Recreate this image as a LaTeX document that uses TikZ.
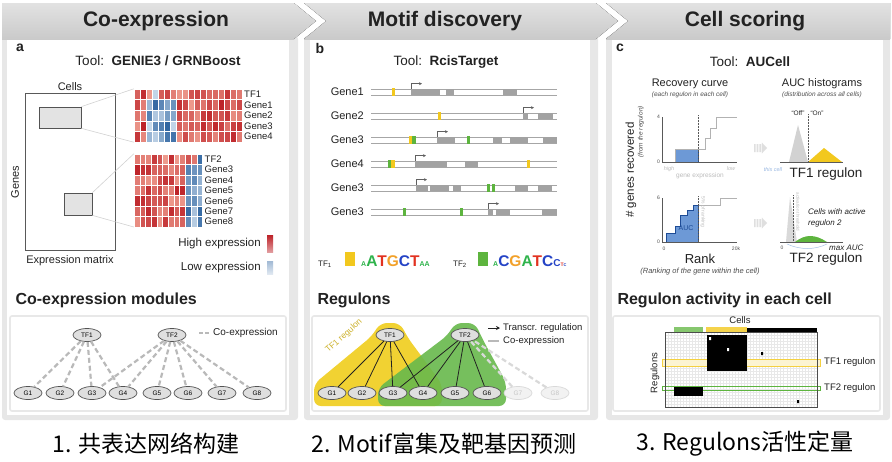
\documentclass[tikz,border=0pt]{standalone}
\usepackage{fontspec}
\setmainfont{Liberation Sans}
\newfontfamily\cjk{Noto Sans CJK SC}
\usetikzlibrary{arrows.meta,positioning,calc,shapes.geometric}
\definecolor{HeadTop}{HTML}{E2E2E2}
\definecolor{HeadBot}{HTML}{CACACA}
\definecolor{Frame}{HTML}{E7E7E7}
\definecolor{Ink}{HTML}{222222}
\definecolor{HeatRed}{HTML}{BD2228}
\definecolor{HeatLow}{HTML}{EE9C8E}
\definecolor{HeatBlue}{HTML}{2E64A0}
\definecolor{BlueLow}{HTML}{C9DAEB}
\definecolor{Exon}{HTML}{A2A2A2}
\definecolor{Yel}{HTML}{F2C81E}
\definecolor{Grn}{HTML}{5DB43E}
\definecolor{RegYel}{HTML}{F1D232}
\definecolor{RegGrn}{HTML}{68B94C}
\definecolor{LogoA}{HTML}{2EB34B}
\definecolor{LogoC}{HTML}{2443C6}
\definecolor{LogoG}{HTML}{F2A12A}
\definecolor{LogoT}{HTML}{E23220}
\definecolor{AucBlue}{HTML}{6D99D6}
\definecolor{AucDark}{HTML}{1E4C96}
\definecolor{Faint}{HTML}{BDBDBD}
\newcommand\fsz[1]{\fontsize{#1}{#1}\selectfont}
\tikzset{
  header/.style={top color=HeadTop,bottom color=HeadBot},
  title/.style={font=\fsz{21}\bfseries,text=Ink},
  tool/.style={font=\fsz{13.5},text=Ink},
  panlab/.style={font=\fsz{14}\bfseries,text=Ink},
  sect/.style={font=\fsz{16}\bfseries,text=Ink,anchor=west},
  lab/.style={font=\fsz{11},text=Ink,inner sep=1pt},
  hmlab/.style={font=\fsz{9.5},text=Ink,inner sep=0pt,anchor=west},
  small/.style={font=\fsz{9.5},text=Ink,inner sep=1pt,anchor=west},
  note/.style={font=\fsz{6.5}\itshape,text=Ink!80,inner sep=0pt},
  faint/.style={font=\fsz{5.5}\itshape,text=Faint,inner sep=0pt},
  netbox/.style={draw=gray!18,line width=1.6pt,rounded corners=2pt},
  sel/.style={draw=gray!65!black,fill=gray!22,line width=.7pt,inner sep=0pt},
  gnode/.style={ellipse,draw=gray!65!black,fill=gray!25,line width=.7pt,minimum width=28pt,
    minimum height=13pt,inner sep=0pt,font=\fsz{6.5}},
  gfade/.style={gnode,draw=gray!30,fill=gray!10,text=gray!45},
  coexp/.style={gray!55,line width=2.2pt,dash pattern=on 5pt off 3pt},
  tfedge/.style={Ink,line width=.8pt},
  exonfill/.style={fill=Exon},
  tssarrow/.style={-{Stealth[length=3pt,width=3pt]},gray!75!black,line width=.5pt},
  axis/.style={gray!70!black,line width=.5pt},
  tick/.style={font=\fsz{5},text=Ink!80,inner sep=1pt},
  caption/.style={font=\cjk\fsz{23},text=black}
}
\newcommand\track[1]{\draw[gray!70,line width=.6pt] (371,#1-2.8) -- (557,#1-2.8) (371,#1+2.8) -- (557,#1+2.8);}
\newcommand\exon[3]{\fill[exonfill] (#1,#3-2.8) rectangle (#2,#3+2.8);}
\newcommand\motif[3]{\fill[#1] (#2,#3-3.8) rectangle ++(3.4,7.6);}
\newcommand\tss[2]{\draw[tssarrow] (#1,#2-2.8) -- ++(0,-5.5) -- ++(11,0);}
\newcommand\fatarrow[2]{\fill[gray!25] (#1,#2-4) rectangle ++(1.6,8) (#1+2.7,#2-4) rectangle ++(1.6,8)
  (#1+5.4,#2-4) rectangle ++(1.6,8) (#1+7.8,#2-5.5) -- (#1+13,#2) -- (#1+7.8,#2+5.5) -- cycle;}

\begin{document}
\begin{tikzpicture}[x=1pt,y=-1pt]
\useasboundingbox (0,0) rectangle (892,461);
% panels
\fill[Frame,rounded corners=3pt] (2,36) rectangle (298,420);
\fill[Frame,rounded corners=3pt] (304,36) rectangle (598,420);
\fill[Frame,rounded corners=3pt] (606,36) rectangle (890,420);
\fill[header] (2,3) -- (294,3) -- (316,21) -- (294,39) -- (2,39) -- cycle;
\fill[header] (304,3) -- (596,3) -- (618,21) -- (596,39) -- (304,39) -- (326,21) -- cycle;
\fill[header] (606,3) -- (890,3) -- (890,39) -- (606,39) -- (628,21) -- cycle;
\fill[white] (7,40) rectangle (289,415);
\fill[white] (310,40) rectangle (590,415);
\fill[white] (612,40) rectangle (883,415);
\node[title] (hA) at (156,21) {Co-expression};
\node[title] (hB) at (445,21) {Motif discovery};
\node[title] (hC) at (745,21) {Cell scoring};

% a
\node[panlab] (labA) at (20,48) {a};
\node[tool] (toolA) at (158,61) {Tool:\ \ \textbf{GENIE3 / GRNBoost}};
\node[draw=gray!70!black,line width=.8pt,minimum width=90pt,minimum height=157pt] (exprmat) at (70,171.5) {};
\node[lab,above=1pt of exprmat] (cellsA) {Cells};
\node[lab,below=4pt of exprmat] (exprlab) {Expression matrix};
\node[lab,rotate=90] (genesA) at (15,182) {Genes};
\node[sel,minimum width=42pt,minimum height=21pt] (selA1) at (60,117.5) {};
\node[sel,minimum width=28pt,minimum height=22pt] (selA2) at (78,204) {};
\pgfmathsetseed{5}
\foreach \r in {0,...,4}
  \foreach \c in {0,...,17}{
    \pgfmathtruncatemacro\v{100*rnd}
    \pgfmathtruncatemacro\isb{(\r>0 && \c>1 && \c<7) || (\r==0 && \c==3)}
    \ifnum\isb=1 \def\hc{HeatBlue!\v!BlueLow}\else\def\hc{HeatRed!\v!HeatLow}\fi
    \fill[\hc,draw=white,line width=.3pt] (134+6*\c,89+10.6*\r) rectangle ++(6,10.6);
  }
\foreach \r in {0,...,6}
  \foreach \c in {0,...,11}{
    \pgfmathtruncatemacro\v{100*rnd}
    \pgfmathtruncatemacro\isb{(\r>0 && \c>8) || (\r==0 && \c==11)}
    \ifnum\isb=1 \def\hc{HeatBlue!\v!BlueLow}\else\def\hc{HeatRed!\v!HeatLow}\fi
    \fill[\hc,draw=white,line width=.3pt] (134+5.7*\c,154+10.4*\r) rectangle ++(5.7,10.4);
  }
\draw[white,line width=1.3pt] (134,99.6) -- (242,99.6) (134,164.4) -- (202.4,164.4);
\node[inner sep=0pt,minimum width=108pt,minimum height=53pt] (hmA) at (188,115.5) {};
\node[inner sep=0pt,minimum width=68.4pt,minimum height=72.8pt] (hmB) at (168.2,190.4) {};
\draw[gray!35,line width=.6pt] (selA1.north east) -- (hmA.north west) (selA1.south east) -- (hmA.south west);
\draw[gray!35,line width=.6pt] (selA2.north east) -- (hmB.north west) (selA2.south east) -- (hmB.south west);
\foreach \t [count=\r from 0] in {TF1,Gene1,Gene2,Gene3,Gene4}
  \node[hmlab] (hlA\r) at (244,94.3+10.6*\r) {\t};
\foreach \t [count=\r from 0] in {TF2,Gene3,Gene4,Gene5,Gene6,Gene7,Gene8}
  \node[hmlab] (hlB\r) at (204.5,159.2+10.4*\r) {\t};
\node[lab,anchor=east,font=\fsz{11.5}] (hiA) at (262,244) {High expression};
\shade[top color=HeatRed,bottom color=HeatRed!45!white] (267,235) rectangle (273,252);
\node[lab,anchor=east,font=\fsz{11.5}] (loA) at (262,268) {Low expression};
\shade[top color=HeatBlue!45!white,bottom color=HeatBlue!15!white] (267,261) rectangle (273,274);

\node[sect] (secA) at (12,300) {Co-expression modules};
\draw[netbox] (10,316) rectangle (286,411);
\node[gnode] (atf1) at (87,335) {TF1};
\node[gnode] (atf2) at (172,335) {TF2};
\foreach \x [count=\i] in {28,60,92,123,157,188,222,257}
  \node[gnode] (ag\i) at (\x,393) {G\i};
\foreach \i in {1,...,4} \draw[coexp] (atf1) -- (ag\i);
\foreach \i in {3,...,8} \draw[coexp] (atf2) -- (ag\i);
\coordinate (alegA) at (199,333);
\draw[coexp,dash pattern=on 4pt off 2pt] (alegA) -- ++(11,0);
\node[small,font=\fsz{10}] (alegT) at (212,333) {Co-expression};

% b
\node[panlab] (labB) at (320,48) {b};
\node[tool] (toolB) at (446,62) {Tool:\ \ \textbf{RcisTarget}};
\foreach \y/\t [count=\i] in {92/Gene1,116/Gene2,140/Gene3,164/Gene4,188/Gene3,212/Gene3}{
  \node[lab,anchor=east] (gl\i) at (365,\y) {\t};
  \track{\y}
}
\motif{Yel}{392}{92} \tss{411}{92} \exon{411}{440}{92} \exon{446}{454}{92} \exon{503}{517}{92}
\motif{Yel}{438}{116} \tss{523}{116} \exon{523}{528}{116} \exon{538}{553}{116}
\motif{Yel}{409}{140} \motif{Grn}{412.4}{140} \tss{437}{140} \exon{437}{455}{140} \motif{Grn}{467}{140}
\exon{493}{502}{140} \exon{510}{528}{140} \exon{543}{557}{140}
\motif{Grn}{388}{164} \motif{Yel}{391.4}{164} \tss{415}{164} \exon{415}{447}{164} \exon{465}{478}{164}
\motif{Yel}{527}{164}
\tss{416}{188} \exon{416}{428}{188} \exon{430}{449}{188} \exon{453}{461}{188} \motif{Grn}{487}{188}
\motif{Grn}{492}{188} \exon{515}{528}{188} \exon{538}{552}{188}
\motif{Grn}{403}{212} \motif{Grn}{460}{212} \tss{488}{212} \exon{488}{493}{212} \exon{496}{510}{212}
\exon{542}{557}{212}
\node[anchor=base west,inner sep=0pt,font=\fsz{8},text=Ink] (tf1m) at (318,266) {TF\textsubscript{1}};
\fill[Yel] (345,252) rectangle (355,266);
\node[anchor=base west,inner sep=0pt,font=\bfseries] (logo1) at (361,266) {\textcolor{LogoA}{\fsz{7}A}\textcolor{LogoA}{\fsz{15.5}A}\textcolor{LogoT}{\fsz{15.5}T}\textcolor{LogoG}{\fsz{15.5}G}\textcolor{LogoC}{\fsz{15.5}C}\textcolor{LogoT}{\fsz{15.5}T}\textcolor{LogoA}{\fsz{7}AA}};
\node[anchor=base west,inner sep=0pt,font=\fsz{8},text=Ink] (tf2m) at (453,266) {TF\textsubscript{2}};
\fill[Grn] (478,252) rectangle (488,266);
\node[anchor=base west,inner sep=0pt,font=\bfseries] (logo2) at (493,266) {\textcolor{LogoA}{\fsz{7}A}\textcolor{LogoC}{\fsz{15.5}C}\textcolor{LogoG}{\fsz{15.5}G}\textcolor{LogoA}{\fsz{15.5}A}\textcolor{LogoT}{\fsz{15.5}T}\textcolor{LogoC}{\fsz{15.5}C}\textcolor{LogoC}{\fsz{10}C}\textcolor{LogoT}{\fsz{5}T}\textcolor{LogoC}{\fsz{4}C}};

\node[sect] (secB) at (314,300) {Regulons};
\draw[netbox] (312,316) rectangle (588,411);
\fill[RegYel,rounded corners=7pt] (380,323) -- (400,323) -- (408,338) -- (442,384) -- (442,406)
  -- (314,406) -- (314,384) -- (372,336) -- cycle;
\fill[RegGrn,opacity=.9,rounded corners=7pt] (455,323) -- (475,323) -- (483,340) -- (506,382)
  -- (506,406) -- (378,406) -- (378,388) -- (448,335) -- cycle;
\node[font=\fsz{8.5},text=RegYel!85!black,rotate=42,inner sep=0pt] (tf1reg) at (344,336) {TF1 regulon};
\node[gnode] (btf1) at (390,335) {TF1};
\node[gnode] (btf2) at (465,335) {TF2};
\foreach \x [count=\i] in {332,362,393,423,455,487}
  \node[gnode] (bg\i) at (\x,393) {G\i};
\node[gfade] (bg7) at (518,393) {G7};
\node[gfade] (bg8) at (555,393) {G8};
\foreach \i in {1,...,4} \draw[tfedge] (btf1) -- (bg\i);
\foreach \i in {3,...,6} \draw[tfedge] (btf2) -- (bg\i);
\foreach \i in {7,8} \draw[coexp,gray!30] (bg\i) -- (btf2);
\coordinate (blegA) at (488,328);
\coordinate (blegB) at (488,341);
\draw[-{Stealth[length=4pt,width=4pt]},Ink,line width=1pt] (blegA) -- ++(12,0);
\draw[gray!55,line width=2pt] (blegB) -- ++(11,0);
\node[small] (blegAt) at (502,328) {Transcr. regulation};
\node[small] (blegBt) at (502,341) {Co-expression};

% c
\node[panlab] (labC) at (620,48) {c};
\node[tool] (toolC) at (750,62) {Tool:\ \ \textbf{AUCell}};
\node[lab] (recT) at (690,84) {Recovery curve};
\node[note] (recS) at (690,95) {(each regulon in each cell)};
\node[lab] (aucT) at (822,84) {AUC histograms};
\node[note] (aucS) at (822,95) {(distribution across all cells)};
\node[rotate=90,font=\fsz{11.5},text=Ink,inner sep=0pt] (ylab) at (631,170) {\# genes recovered};
\node[rotate=90,note] (ylab2) at (641,132) {(from the regulon)};
\fill[AucBlue,draw=AucDark,line width=.3pt] (675,149) rectangle (698,162);
\draw[gray!60,line width=.6pt] (662,162) -- (675,162) -- (675,149) -- (705,149) -- (705,138) -- (710,138)
  -- (710,128) -- (716,128) -- (716,117) -- (737,117);
\draw[axis] (662,117) -- (662,162) -- (737,162);
\draw[densely dotted,gray!70!black,line width=.5pt] (698,115) -- (698,162);
\node[tick,anchor=east] (t4) at (661,117) {4};
\node[tick,anchor=east] (t0a) at (661,162) {0};
\node[faint] (hiT) at (669,169) {high};
\node[faint] (loT) at (731,169) {low};
\node[faint,font=\fsz{6.5}] (geT) at (700,176) {gene expression};
\fill[AucBlue,draw=AucDark,line width=.3pt] (666,242) -- (666,233) -- (675,233) -- (675,226) -- (680,226)
  -- (680,215) -- (687,215) -- (687,210) -- (693,210) -- (693,205) -- (698,205) -- (698,242) -- cycle;
\draw[gray!60,line width=.6pt] (698,205) -- (720,205) -- (720,198) -- (737,198);
\draw[axis] (662,198) -- (662,242) -- (737,242);
\draw[densely dotted,gray!70!black,line width=.5pt] (698,196) -- (698,242);
\node[faint,font=\fsz{5},rotate=-90] (fiveT) at (703,212) {5\% of ranking};
\node[font=\fsz{7},text=AucDark,inner sep=0pt] (aucT2) at (686,228) {AUC};
\node[tick,anchor=east] (t6) at (661,198) {6};
\node[tick,anchor=east] (t0b) at (661,242) {0};
\node[tick] (t0c) at (664,249) {0};
\node[tick] (t20k) at (736,249) {20k};
\node[font=\fsz{13},text=Ink,inner sep=0pt] (rankT) at (700,259) {Rank};
\node[note,font=\fsz{7.5}\itshape] (rankS) at (700,272) {(Ranking of the gene within the cell)};
\fatarrow{754}{148}
\fatarrow{754}{223}
\fill[gray!35] (789,162) -- (798,125) -- (808,162) -- cycle;
\fill[Yel] (808,162) -- (824,148) -- (842,162) -- cycle;
\draw[axis] (780,162) -- (843,162);
\draw[densely dotted,gray!70!black,line width=.5pt] (808,114) -- (808,162);
\node[font=\fsz{6.5},text=Ink,inner sep=0pt] (offT) at (798,113) {“Off”};
\node[font=\fsz{6.5},text=Ink,inner sep=0pt] (onT) at (817,113) {“On”};
\node[faint,text=AucBlue!70] (cellT) at (773,170) {this cell};
\node[font=\fsz{13.5},text=Ink,inner sep=0pt] (tf1h) at (826,174) {TF1 regulon};
\fill[gray!30] (786,242) -- (790,197) -- (797,242) -- cycle;
\fill[Grn] (795,242) .. controls (805,234) and (815,234) .. (827,242) -- cycle;
\draw[AucBlue!60,line width=.5pt] (787,244) .. controls (800,250) and (815,250) .. (827,244);
\draw[axis] (780,242) -- (843,242);
\draw[densely dotted,gray!70!black,line width=.5pt] (793,195) -- (793,242);
\node[faint,font=\fsz{4.5},rotate=-90] (actT) at (798,212) {activation threshold};
\node[tick] (t0d) at (782,248) {0};
\node[font=\fsz{8}\itshape,text=Ink,inner sep=0pt,anchor=west] (maxT) at (829,248) {max AUC};
\node[font=\fsz{8}\itshape,text=Ink,inner sep=0pt,anchor=west] (actA) at (808,212) {Cells with active};
\node[font=\fsz{8}\itshape,text=Ink,inner sep=0pt,anchor=west] (actB) at (808,223) {regulon 2};
\node[font=\fsz{13.5},text=Ink,inner sep=0pt] (tf2h) at (826,259) {TF2 regulon};

\node[sect] (secC) at (614,300) {Regulon activity in each cell};
\draw[netbox] (613,316) rectangle (880,411);
\node[small,anchor=center] (cellsC) at (740,320) {Cells};
\fill[white] (665,332) rectangle (817,407);
\foreach \i in {0,...,50} \draw[gray!18,line width=.2pt] (665+3.04*\i,332) -- ++(0,75);
\foreach \j in {0,...,25} \draw[gray!18,line width=.2pt] (665,332+3*\j) -- ++(152,0);
\fill[Grn!75] (674,327) rectangle (703,332);
\fill[Yel!80] (706,327) rectangle (747,332);
\fill[black] (747,328) rectangle (817,332);
\draw[Yel!85,fill=Yel!20,line width=1pt] (662,359) rectangle (820,366);
\draw[Grn,line width=.8pt] (662,386) rectangle (820,390);
\fill[black] (707,335) rectangle (747,371);
\fill[white] (709,337) rectangle ++(2,3) (727,348) rectangle ++(2,3);
\fill[black] (674,387) rectangle (703,396);
\fill[black] (761,352) rectangle ++(2,3) (797,400) rectangle ++(2,3);
\draw[gray!60!black,line width=.6pt] (665,332) rectangle (817,407);
\node[small] (tf1c) at (823,362) {TF1 regulon};
\node[small] (tf2c) at (823,388) {TF2 regulon};
\node[small,anchor=center,rotate=90] (regC) at (655,373) {Regulons};

% captions
\node[caption] (cap1) at (146,444) {1. 共表达网络构建};
\node[caption] (cap2) at (444,444) {2. Motif富集及靶基因预测};
\node[caption] (cap3) at (745,444) {3. Regulons活性定量};
\end{tikzpicture}
\end{document}
